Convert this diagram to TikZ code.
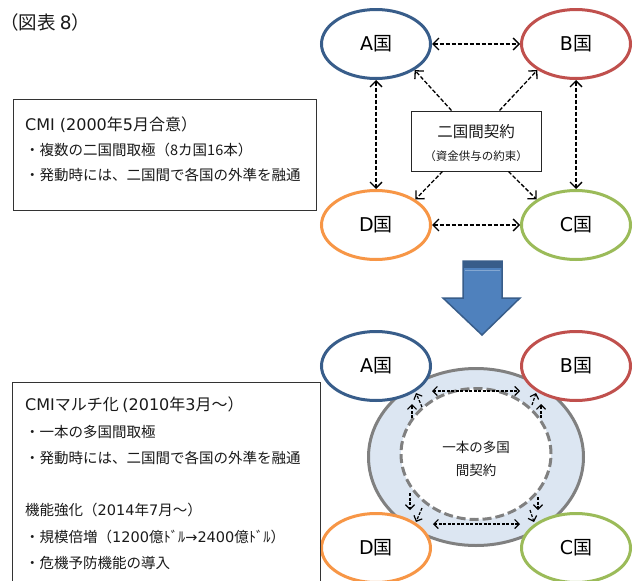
\documentclass[tikz,border=0pt]{standalone}
\usepackage{fontspec}
\setmainfont{Noto Sans CJK JP}
\newfontfamily\lat{DejaVu Sans}
\usetikzlibrary{shapes.geometric,arrows.meta,calc}
\definecolor{cA}{HTML}{385D8A}
\definecolor{cB}{HTML}{C0504D}
\definecolor{cC}{HTML}{9BBB59}
\definecolor{cD}{HTML}{F79646}
\definecolor{ringfill}{HTML}{DCE6F2}
\definecolor{ringgray}{HTML}{808080}
\definecolor{arrfill}{HTML}{4F81BD}
\definecolor{arrdark}{HTML}{385D8A}
\definecolor{txt}{HTML}{1A1A1A}
\tikzset{
  country/.style={ellipse, minimum width=109pt, minimum height=69pt, line width=3pt, fill=white, inner sep=0pt, text=black, font=\fontsize{19}{19}\selectfont},
  darr/.style={line width=1.3pt, dash pattern=on 4pt off 2pt, {Straight Barb[length=6pt,width=12pt]}-{Straight Barb[length=6pt,width=12pt]}},
  sarr/.style={line width=1.3pt, dash pattern=on 4pt off 2pt, -{Straight Barb[length=6pt,width=12pt]}},
  smarr/.style={line width=1.2pt, dash pattern=on 3pt off 1.5pt, -{Straight Barb[length=4.5pt,width=9pt]}},
  smdarr/.style={line width=1.2pt, dash pattern=on 3pt off 1.5pt, {Straight Barb[length=4.5pt,width=9pt]}-{Straight Barb[length=4.5pt,width=9pt]}},
  bigtxt/.style={anchor=west, inner sep=0pt, text=txt, font=\fontsize{16}{16}\selectfont},
  linetxt/.style={anchor=west, inner sep=0pt, text=txt, font=\fontsize{14.5}{14.5}\selectfont},
  infobox/.style={draw=black!80, line width=1.2pt, anchor=north west, inner sep=0pt}
}
\begin{document}
\begin{tikzpicture}[x=1pt,y=-1pt]
\useasboundingbox (0,0) rectangle (640,581);
\fill[white] (0,0) rectangle (640,581);

% title
\node[anchor=west, inner sep=0pt, text=txt, font=\fontsize{18.5}{18.5}\selectfont] (title) at (0,22) {（図表 {\lat 8}）};

% ---------- top diagram ----------
\node[country, draw=cA] (A1) at (376,44) {{\lat A}国};
\node[country, draw=cB] (B1) at (576,44) {{\lat B}国};
\node[country, draw=cD] (D1) at (376,225) {{\lat D}国};
\node[country, draw=cC] (C1) at (576,225) {{\lat C}国};

\node[draw=black!85, line width=1pt, fill=white, minimum width=130pt, minimum height=60pt, inner sep=0pt] (M) at (476,141) {};
\node[inner sep=0pt, text=txt, font=\fontsize{15.5}{15.5}\selectfont] (Mt1) at (476,132) {二国間契約};
\node[inner sep=0pt, text=txt, font=\fontsize{11.5}{11.5}\selectfont] (Mt2) at (476,156) {（資金供与の約束）};

\draw[darr] (A1.east) -- (B1.west);
\draw[darr] (D1.east) -- (C1.west);
\draw[darr] (A1.south) -- (D1.north);
\draw[darr] (B1.south) -- (C1.north);
\draw[sarr] ([xshift=41pt]M.north west) -- (A1.-34);
\draw[sarr] ([xshift=89pt]M.north west) -- (B1.214);
\draw[sarr] ([xshift=32pt]M.south west) -- (D1.33);
\draw[sarr] ([xshift=98pt]M.south west) -- (C1.147);

% left box 1
\node[infobox, minimum width=303pt, minimum height=111pt] (box1) at (13,99) {};
\node[bigtxt] (b1l1) at (25,125) {{\lat CMI (2000}年{\lat 5}月合意）};
\node[linetxt] (b1l2) at (25,150) {・複数の二国間取極（8カ国16本）};
\node[linetxt] (b1l3) at (25,175) {・発動時には、二国間で各国の外準を融通};

% big arrow
\filldraw[fill=arrfill, draw=arrdark, line width=1.5pt, line join=miter]
  (463,261) -- (502,261) -- (502,298) -- (520,298) -- (482,335) -- (443,298) -- (463,298) -- cycle;
\fill[arrdark] (463,261) rectangle (502,268);
\draw[arrfill!70!white, line width=0.8pt] (465,270) -- (500,270);

% ---------- bottom diagram ----------
\node[ellipse, minimum width=215pt, minimum height=177pt, fill=ringfill, draw=ringgray, line width=3pt] (ring) at (476,457) {};
\node[ellipse, minimum width=150pt, minimum height=131pt, fill=white, draw=ringgray, line width=3pt, dash pattern=on 9pt off 4pt] (inner) at (476,454) {};
\node[inner sep=0pt, text=txt, font=\fontsize{13.5}{13.5}\selectfont] (it1) at (476,447) {一本の多国};
\node[inner sep=0pt, text=txt, font=\fontsize{13.5}{13.5}\selectfont] (it2) at (476,470) {間契約};

\node[country, draw=cA] (A2) at (376,366) {{\lat A}国};
\node[country, draw=cB] (B2) at (576,366) {{\lat B}国};
\node[country, draw=cD] (D2) at (376,548) {{\lat D}国};
\node[country, draw=cC] (C2) at (576,548) {{\lat C}国};

% small arrows on ring
\coordinate (tl) at (432,391); \coordinate (tr) at (520,391);
\coordinate (bl) at (433,524); \coordinate (br) at (520,524);
\coordinate (av0) at (412,418); \coordinate (av1) at (412,404);
\coordinate (ad0) at (422,407); \coordinate (ad1) at (416,393);
\coordinate (bv0) at (541,418); \coordinate (bv1) at (541,404);
\coordinate (bd0) at (532,405); \coordinate (bd1) at (536,393);
\coordinate (dv0) at (410,493); \coordinate (dv1) at (410,510);
\coordinate (dd0) at (422,508); \coordinate (dd1) at (416,522);
\coordinate (cv0) at (538,497); \coordinate (cv1) at (538,510);
\coordinate (cd0) at (530,510); \coordinate (cd1) at (534,522);
\draw[smdarr] (tl) -- (tr);
\draw[smdarr] (bl) -- (br);
\draw[smarr] (av0) -- (av1);
\draw[smarr] (ad0) -- (ad1);
\draw[smarr] (bv0) -- (bv1);
\draw[smarr] (bd0) -- (bd1);
\draw[smarr] (dv0) -- (dv1);
\draw[smarr] (dd0) -- (dd1);
\draw[smarr] (cv0) -- (cv1);
\draw[smarr] (cd0) -- (cd1);

% left box 2
\node[infobox, minimum width=308pt, minimum height=210pt] (box2) at (12,382) {};
\node[bigtxt] (b2l1) at (25,405) {{\lat CMI}マルチ化 {\lat (2010}年{\lat 3}月～）};
\node[linetxt] (b2l2) at (25,432) {・一本の多国間取極};
\node[linetxt] (b2l3) at (25,458) {・発動時には、二国間で各国の外準を融通};
\node[linetxt] (b2l4) at (25,510) {機能強化（{\lat 2014}年{\lat 7}月～）};
\node[linetxt] (b2l5) at (25,537) {・規模倍増（{\lat 1200}億ﾄﾞﾙ{\lat →2400}億ﾄﾞﾙ）};
\node[linetxt] (b2l6) at (25,563) {・危機予防機能の導入};
\end{tikzpicture}
\end{document}
